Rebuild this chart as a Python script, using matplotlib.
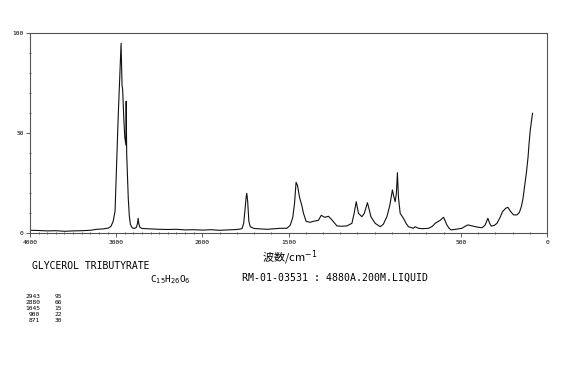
"""
    GLYCEROL TRIBUTYRATE  Raman spectrum
"""

import numpy as np
import matplotlib
matplotlib.use('Agg')
import matplotlib.pyplot as plt
from matplotlib.ticker import FixedLocator, MultipleLocator

plt.rcParams['font.family'] = ['DejaVu Sans Mono', 'Noto Sans CJK JP']

# 波数 (cm-1) 与强度
wavenumber = [4000, 3900, 3800, 3700, 3600, 3500, 3400, 3300, 3226, 3150,
              3090, 3060, 3035, 3013, 2995, 2975, 2955, 2946, 2943, 2938,
              2932, 2925, 2912, 2900, 2886, 2884, 2882, 2878, 2870, 2860,
              2848, 2835, 2815, 2790, 2765, 2752, 2745, 2738, 2725, 2700,
              2600, 2500, 2400, 2300, 2200, 2100, 2000,
              1950, 1900, 1850, 1800, 1770, 1760, 1752, 1746, 1742, 1737,
              1730, 1722, 1700, 1660, 1626, 1580, 1548, 1510, 1490, 1475,
              1465, 1456, 1448, 1436, 1423, 1413, 1398, 1375, 1355, 1326,
              1310, 1290, 1268, 1248, 1219, 1190, 1161, 1132, 1119, 1107,
              1094, 1074, 1060, 1042, 1032, 1022, 997, 968, 950, 929,
              912, 897, 888, 881, 874, 868, 862, 852, 833, 818,
              804, 775, 765, 746, 720, 687, 665, 649, 620, 600,
              590, 581, 568, 556, 530, 494, 475, 459, 440, 416,
              396, 377, 360, 343, 333, 323, 305, 290, 272, 258,
              240, 227, 212, 194, 174, 160, 149, 140, 130, 120,
              110, 104, 97, 90, 84]
intensity = [1.5, 1.4, 1.2, 1.3, 1.0, 1.2, 1.3, 1.5, 2.0, 2.2,
             2.6, 3.5, 6, 11, 35, 60, 82, 92, 95, 86,
             74, 72, 58, 48, 44, 66, 55, 40, 30, 18,
             9, 4.5, 2.8, 2.4, 3.0, 5.0, 7.5, 5.0, 3.0, 2.4,
             2.2, 2.0, 1.9, 2.0, 1.7, 1.8, 1.6,
             1.8, 1.5, 1.7, 1.9, 2.3, 5, 12, 18, 20, 16,
             6, 3.3, 2.4, 2.2, 2.0, 2.3, 2.5, 2.5, 4, 8,
             15, 25.5, 24, 18, 14, 10, 6, 5.5, 6, 6.5,
             9, 8, 8.5, 6.7, 3.7, 3.5, 3.7, 5, 10, 15.8,
             10, 8.3, 10, 15.3, 12, 8.3, 5, 3.3, 4.5, 8.3,
             14, 21.7, 18, 15.8, 20, 30.3, 18, 10, 7.5, 5,
             3.3, 2.5, 3.3, 2.5, 2.3, 2.5, 3.5, 5, 6.5, 8,
             6, 4.2, 2.5, 1.7, 2.0, 2.5, 3.5, 4.2, 3.8, 3.3,
             3.0, 2.8, 4, 7.5, 5, 3.6, 4, 5, 8, 10.8,
             12.5, 13, 11, 9.2, 9.2, 10.5, 13.3, 17, 23.3, 30,
             38, 45, 51.7, 56, 60]

x_ticks = [4000, 3000, 2000, 1500, 500, 0]
x_labels = ['4000', '3000', '2000', '1500', '500', '0']
y_ticks = [0, 50, 100]

title = 'GLYCEROL TRIBUTYRATE'
formula = r'C$_{15}$H$_{26}$O$_{6}$'
sample = 'RM-01-03531 : 4880A.200M.LIQUID'
peak_pos = ['2943', '2880', '1045', '900', '871']
peak_val = ['95', '66', '15', '22', '30']


# 2000 以上压缩一半
def forward(x):
    x = np.asarray(x, dtype=float)
    return np.where(x > 2000, 2000 + (x - 2000) / 2, x)


def inverse(u):
    u = np.asarray(u, dtype=float)
    return np.where(u > 2000, 2000 + (u - 2000) * 2, u)


fig = plt.figure(figsize=(5.7, 3.7), dpi=100, facecolor='white')
ax = fig.add_axes([30 / 570, 1 - 233.3 / 370, 517 / 570, 200 / 370])
ax.set_xscale('function', functions=(forward, inverse))
ax.plot(wavenumber, intensity, color='#111111', linewidth=0.8)
ax.set_xlim(4000, 0)
ax.set_ylim(0, 100)

ax.xaxis.set_major_locator(FixedLocator(x_ticks))
ax.set_xticklabels(x_labels)
ax.xaxis.set_minor_locator(MultipleLocator(100))
ax.yaxis.set_major_locator(FixedLocator(y_ticks))
ax.yaxis.set_minor_locator(MultipleLocator(10))
ax.tick_params(which='major', length=3, width=0.6, labelsize=4.5,
               color='#444444', pad=1.5)
ax.tick_params(which='minor', length=1.5, width=0.6, color='#444444',
               direction='inout')
for sp in ax.spines.values():
    sp.set_color('#555555')
    sp.set_linewidth(0.8)

fig.text(290 / 570, 1 - 258 / 370, '波数/cm$^{-1}$', ha='center',
         va='center', fontsize=8, family=['Noto Sans CJK JP', 'DejaVu Sans'])
fig.text(32 / 570, 1 - 266 / 370, title, ha='left', va='center',
         fontsize=7)
fig.text(150 / 570, 1 - 280 / 370, formula, ha='left', va='center',
         fontsize=6.8)
fig.text(242 / 570, 1 - 278 / 370, sample, ha='left', va='center',
         fontsize=7.1)
for i in range(len(peak_pos)):
    y = 1 - (296 + 6.2 * i) / 370
    fig.text(40 / 570, y, peak_pos[i], ha='right', va='center', fontsize=4.5)
    fig.text(62 / 570, y, peak_val[i], ha='right', va='center', fontsize=4.5)

fig.savefig('out.png', dpi=100, facecolor='white')
